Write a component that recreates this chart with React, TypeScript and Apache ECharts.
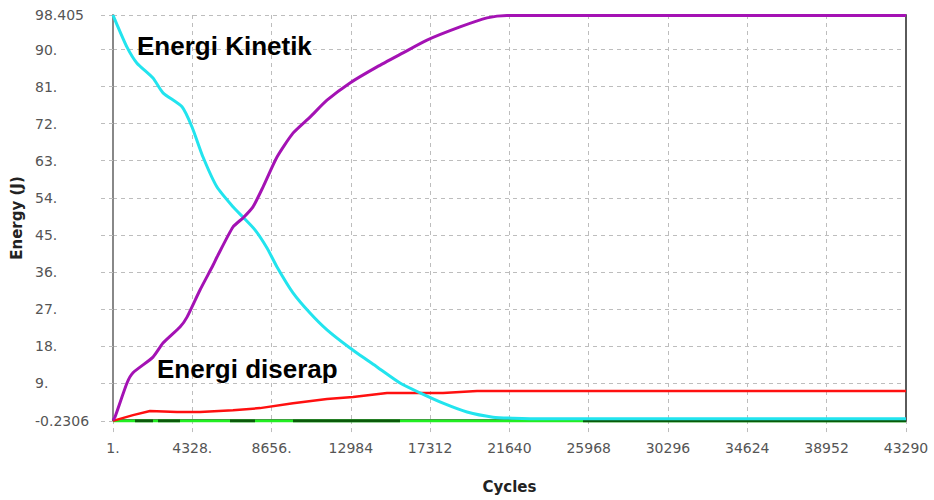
import React, { useEffect, useRef } from "react";
import * as echarts from "echarts";

// Axis ticks and labels
const cycleTicks = [1, 4328, 8656, 12984, 17312, 21640, 25968, 30296, 34624, 38952, 43290];
const cycleTickLabels = ["1.", "4328.", "8656.", "12984", "17312", "21640", "25968", "30296", "34624", "38952", "43290"];
const energyTicks = [-0.2306, 9, 18, 27, 36, 45, 54, 63, 72, 81, 90, 98.405];
const energyTickLabels = ["-0.2306", "9.", "18.", "27.", "36.", "45.", "54.", "63.", "72.", "81.", "90.", "98.405"];

// Kinetic energy (cyan)
const kineticCycles = [1, 110, 765, 1311, 2185, 2730, 3768, 4314, 4914, 5678, 6551, 7097, 7752, 8408, 8954, 9827, 10755, 11683, 12939, 14413, 15669, 16761, 18017, 19327, 20746, 21838, 23500, 43290];
const kineticEnergy = [98.4, 97.2, 90.6, 86.7, 83.1, 79.5, 76.1, 71.2, 63.9, 56.6, 51.8, 49.3, 46.2, 41.8, 37.2, 30.9, 26.0, 21.9, 17.5, 12.9, 9.0, 6.6, 4.1, 1.95, 0.7, 0.45, 0.3, 0.3];

// Purple curve
const purpleCycles = [1, 110, 765, 1093, 2185, 2730, 3658, 4041, 4750, 5460, 5678, 6551, 7097, 7643, 8189, 8954, 9827, 10755, 11683, 12939, 14413, 15832, 17143, 18944, 20418, 21510, 43290];
const purpleEnergy = [0, 0.74, 9.0, 11.5, 15.3, 18.7, 22.6, 25.0, 31.6, 37.6, 39.6, 46.9, 49.1, 51.8, 56.6, 63.9, 69.7, 73.6, 77.7, 81.9, 85.8, 89.2, 92.3, 95.5, 97.7, 98.3, 98.3];

// Energi diserap (red)
const dissipatedCycles = [1, 1093, 2021, 3495, 4750, 6551, 8026, 9827, 11683, 13103, 14960, 16597, 18017, 19873, 43290];
const dissipatedEnergy = [-0.2, 1.2, 2.2, 1.95, 1.95, 2.4, 2.9, 4.1, 5.1, 5.6, 6.6, 6.6, 6.6, 7.05, 7.05];

// Bright green baseline
const baselineCycles = [1, 43290];
const baselineEnergy = [-0.2306, -0.2306];

// Dark green segments
const darkSegStart = [1202, 2458, 6388, 9827, 25658];
const darkSegEnd = [2185, 3658, 7753, 15669, 43290];
const darkSegEnergy = -0.2306;

function pairs(xs: number[], ys: number[]) {
  return xs.map((x, i) => [x, ys[i]]);
}

export default function App() {
  const ref = useRef<HTMLDivElement>(null);
  useEffect(() => {
    if (!ref.current) return;
    const chart = echarts.init(ref.current, null, { renderer: "svg" });
    const darkData: any[] = [];
    darkSegStart.forEach((s, i) => {
      darkData.push([s, darkSegEnergy]);
      darkData.push([darkSegEnd[i], darkSegEnergy]);
      if (i < darkSegStart.length - 1) darkData.push([darkSegEnd[i] + 1, null]);
    });
    const gridLine = { color: "#bdbdbd", width: 1, type: [4, 4] as any };
    const labelFont = { fontFamily: "DejaVu Sans", fontSize: 14, color: "#555" };
    const borderAxis = {
      axisLine: { show: true, lineStyle: { color: "#5a5a5a", width: 2 } },
      axisTick: { show: false },
      axisLabel: { show: false },
      splitLine: { show: false },
      z: 1,
    };
    chart.setOption({
      animation: false,
      backgroundColor: "#ffffff",
      grid: {
        left: 113,
        right: 28,
        top: 15,
        bottom: 79,
        show: false,
        containLabel: false,
        outerBoundsMode: "none",
      },
      xAxis: [
        {
          type: "value",
          min: 1,
          max: 43290,
          name: "Cycles",
          nameLocation: "middle",
          nameGap: 58,
          nameTextStyle: { fontFamily: "DejaVu Sans", fontWeight: "bold", fontSize: 15, color: "#222" },
          axisLine: { show: false },
          axisTick: { show: true, length: 12, customValues: cycleTicks, lineStyle: gridLine },
          axisLabel: {
            customValues: cycleTicks,
            margin: 20,
            ...labelFont,
            formatter: (v: number) => {
              const i = cycleTicks.indexOf(v);
              return i >= 0 ? cycleTickLabels[i] : "";
            },
          },
          splitLine: { show: true, lineStyle: gridLine },
        },
        { type: "value", position: "top", min: 1, max: 43290, ...borderAxis },
      ],
      yAxis: [
        {
          type: "value",
          min: -0.2306,
          max: 98.405,
          name: "Energy (J)",
          nameLocation: "middle",
          nameGap: 88,
          nameTextStyle: { fontFamily: "DejaVu Sans", fontWeight: "bold", fontSize: 15, color: "#222" },
          axisLine: { show: true, lineStyle: { color: "#888", width: 2 } },
          axisTick: { show: true, length: 13, customValues: energyTicks, lineStyle: gridLine },
          axisLabel: {
            customValues: energyTicks,
            margin: 78,
            align: "left",
            ...labelFont,
            formatter: (v: number) => {
              let best = 0;
              energyTicks.forEach((t, i) => {
                if (Math.abs(t - v) < Math.abs(energyTicks[best] - v)) best = i;
              });
              return energyTickLabels[best];
            },
          },
          splitLine: { show: true, lineStyle: gridLine },
        },
        { type: "value", position: "right", min: -0.2306, max: 98.405, ...borderAxis },
      ],
      series: [
        {
          name: "baseline",
          type: "line",
          data: pairs(baselineCycles, baselineEnergy),
          showSymbol: false,
          lineStyle: { color: "#22ee22", width: 3 },
          z: 2,
        },
        {
          name: "dark",
          type: "line",
          data: darkData,
          connectNulls: false,
          showSymbol: false,
          lineStyle: { color: "#0a5a0a", width: 3 },
          z: 3,
        },
        {
          name: "Energi diserap",
          type: "line",
          data: pairs(dissipatedCycles, dissipatedEnergy),
          showSymbol: false,
          lineStyle: { color: "#ff1010", width: 2.5 },
          z: 4,
        },
        {
          name: "Energi Kinetik",
          type: "line",
          data: pairs(kineticCycles, kineticEnergy),
          showSymbol: false,
          smooth: 0.2,
          lineStyle: { color: "#22e4ee", width: 3 },
          z: 5,
        },
        {
          name: "Purple",
          type: "line",
          data: pairs(purpleCycles, purpleEnergy),
          showSymbol: false,
          smooth: 0.2,
          lineStyle: { color: "#a412b4", width: 3 },
          z: 6,
        },
      ],
      graphic: [
        {
          type: "text",
          left: 137,
          top: 33,
          z: 100,
          style: {
            text: "Energi Kinetik",
            fontFamily: "Liberation Sans",
            fontWeight: "bold",
            fontSize: 26,
            fill: "#000",
          },
        },
        {
          type: "text",
          left: 157,
          top: 356,
          z: 100,
          style: {
            text: "Energi diserap",
            fontFamily: "Liberation Sans",
            fontWeight: "bold",
            fontSize: 26,
            fill: "#000",
          },
        },
      ],
    });
    return () => chart.dispose();
  }, []);
  return (
    <div
      ref={ref}
      style={{ position: "fixed", left: 0, top: 0, width: 934, height: 500, background: "#fff" }}
    />
  );
}
